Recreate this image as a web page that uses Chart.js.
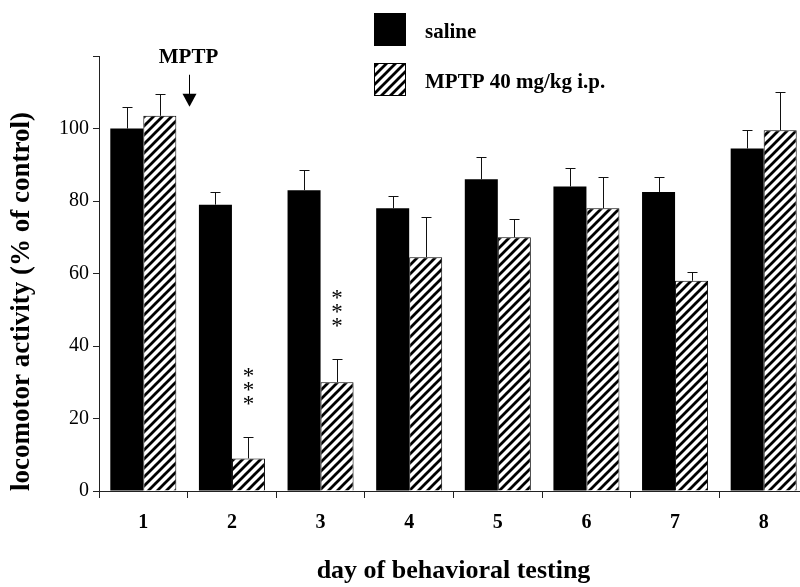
<!DOCTYPE html>
<html>
<head>
<meta charset="utf-8">
<script src="https://cdn.jsdelivr.net/npm/chart.js@4.4.1/dist/chart.umd.min.js"></script>
<style>
  html, body { margin: 0; padding: 0; background: #fff; width: 800px; height: 587px; overflow: hidden; }
  canvas { display: block; }
</style>
</head>
<body>
<canvas id="chart" width="812" height="587"></canvas>
<script>
// ---------- Data ----------
const DAYS = ['1','2','3','4','5','6','7','8'];
const SALINE     = [100, 79, 83, 78, 86, 84, 82.5, 94.5];
const SALINE_SEM = [6, 3.5, 5.5, 3.5, 6, 5, 4, 5];
const MPTP       = [103.5, 9, 30, 64.5, 70, 78, 58, 99.5];
const MPTP_SEM   = [6, 6, 6.5, 11, 5, 8.5, 2.5, 10.5];
const STARS      = [null, 29, 50.5, null, null, null, null, null]; // centre of each *** column
const Y_TICKS    = [0, 20, 40, 60, 80, 100];
const SERIES     = ['saline', 'MPTP 40 mg/kg i.p.'];
const INJECTION  = { label: 'MPTP', between: 0.5, tip: 106, text: 118.2 };

const FONT = 'Liberation Serif';

function hatch() {
  const s = 9, c = document.createElement('canvas');
  c.width = c.height = s;
  const g = c.getContext('2d');
  g.fillStyle = '#fff'; g.fillRect(0, 0, s, s);
  g.strokeStyle = '#000'; g.lineWidth = 2.8;
  g.beginPath();
  g.moveTo(0, s); g.lineTo(s, 0);
  g.moveTo(-s / 2, s / 2); g.lineTo(s / 2, -s / 2);
  g.moveTo(s / 2, s * 1.5); g.lineTo(s * 1.5, s / 2);
  g.stroke();
  return g.createPattern(c, 'repeat');
}
const HATCH = hatch();

// ---------- Plugins ----------
const errorBars = {
  id: 'errorBars',
  afterDatasetsDraw(chart) {
    const { ctx, scales: { y } } = chart;
    const sems = [SALINE_SEM, MPTP_SEM];
    ctx.save();
    ctx.strokeStyle = '#111';
    ctx.lineWidth = 1;
    sems.forEach((sem, di) => {
      const vals = chart.data.datasets[di].data;
      chart.getDatasetMeta(di).data.forEach((bar, i) => {
        const x = Math.round(bar.x) + 0.5;
        const top = Math.round(y.getPixelForValue(vals[i] + sem[i])) + 0.5;
        ctx.beginPath();
        ctx.moveTo(x, bar.y);
        ctx.lineTo(x, top);
        ctx.moveTo(x - 5, top);
        ctx.lineTo(x + 5, top);
        ctx.stroke();
      });
    });
    ctx.restore();
  }
};

const annotations = {
  id: 'annotations',
  afterDraw(chart) {
    const { ctx, scales: { x, y } } = chart;
    ctx.save();
    ctx.fillStyle = '#000';
    ctx.strokeStyle = '#000';

    // stars over the MPTP bars
    ctx.font = `23px ${FONT}`;
    ctx.textAlign = 'center';
    ctx.textBaseline = 'alphabetic';
    const meta = chart.getDatasetMeta(1);
    STARS.forEach((v, i) => {
      if (v == null) return;
      const cx = meta.data[i].x;
      const cy = y.getPixelForValue(v);
      [-14, 0, 14].forEach(d => ctx.fillText('*', cx, cy + d + 0.47 * 23));
    });

    // injection marker
    const ax = Math.round(x.getPixelForValue(INJECTION.between)) + 1.5;
    const tip = y.getPixelForValue(INJECTION.tip);
    ctx.font = `bold 21px ${FONT}`;
    ctx.fillText(INJECTION.label, ax - 1, y.getPixelForValue(INJECTION.text));
    ctx.lineWidth = 1;
    ctx.beginPath();
    ctx.moveTo(ax, tip - 32);
    ctx.lineTo(ax, tip - 12);
    ctx.stroke();
    ctx.beginPath();
    ctx.moveTo(ax - 7, tip - 13);
    ctx.lineTo(ax + 7, tip - 13);
    ctx.lineTo(ax, tip);
    ctx.closePath();
    ctx.fill();

    // legend
    ctx.textAlign = 'left';
    ctx.font = `bold 21px ${FONT}`;
    chart.data.datasets.forEach((ds, i) => {
      const top = 13 + i * 50;
      ctx.fillStyle = ds.backgroundColor;
      ctx.fillRect(374, top, 32, 33);
      ctx.lineWidth = 1;
      ctx.strokeStyle = '#000';
      ctx.strokeRect(374.5, top + 0.5, 31, 32);
      ctx.fillStyle = '#000';
      ctx.fillText(ds.label, 425, top + 25);
    });
    ctx.restore();
  }
};

// ---------- Chart ----------
const axisColor = '#222';
new Chart(document.getElementById('chart'), {
  type: 'bar',
  data: {
    labels: DAYS,
    datasets: [
      { label: SERIES[0], data: SALINE, backgroundColor: '#000', borderColor: '#000', borderWidth: 0 },
      { label: SERIES[1], data: MPTP, backgroundColor: HATCH, borderColor: '#000', borderWidth: 1 }
    ]
  },
  options: {
    responsive: false,
    animation: false,
    devicePixelRatio: 1,
    categoryPercentage: 0.745,
    barPercentage: 1,
    layout: { autoPadding: false, padding: { top: 56, right: 4, left: 0, bottom: 0 } },
    plugins: { legend: { display: false }, tooltip: { enabled: false } },
    scales: {
      x: {
        grid: { offset: true, drawOnChartArea: false, tickLength: 7, color: axisColor },
        border: { color: axisColor },
        ticks: { color: '#000', padding: 13, font: { family: FONT, size: 20, weight: 'bold' } },
        title: {
          display: true, text: 'day of behavioral testing', color: '#000',
          padding: { top: 0, bottom: 0 },
          font: { family: FONT, size: 26, weight: 'bold' }
        },
        afterFit(s) { s.height = 96; }
      },
      y: {
        min: 0, max: 120,
        grid: { drawOnChartArea: false, tickLength: 6, color: axisColor },
        border: { color: axisColor },
        ticks: {
          stepSize: 20, padding: 4, color: '#000',
          font: { family: FONT, size: 20 },
          callback: v => Y_TICKS.includes(v) ? v : ''
        },
        title: {
          display: true, text: 'locomotor activity (% of control)', color: '#000',
          align: 'start', padding: { top: 6, bottom: 0 },
          font: { family: FONT, size: 27, weight: 'bold' }
        },
        afterFit(s) { s.width = 99; }
      }
    }
  },
  plugins: [errorBars, annotations]
});
</script>
</body>
</html>
